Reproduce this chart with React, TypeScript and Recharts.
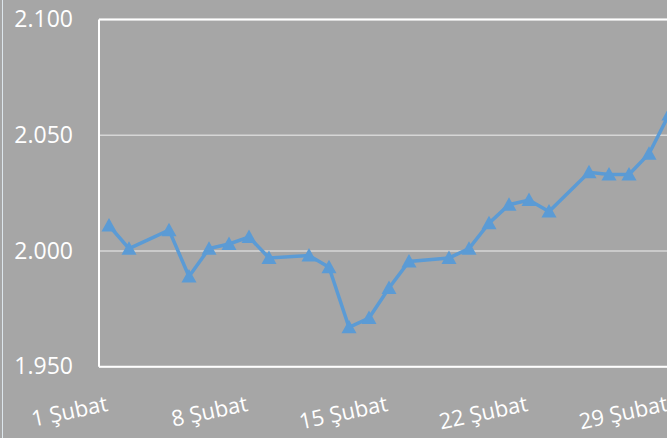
import React from "react";
import { LineChart, Line, XAxis, YAxis, CartesianGrid, ReferenceLine } from "recharts";

// February days with a reading (3rd, 10th, 17th and 24th have none)
const days = [1, 2, 4, 5, 6, 7, 8, 9, 11, 12, 13, 14, 15, 16, 18, 19, 20, 21, 22, 23, 25, 26, 27, 28, 29];
const values = [
  2011, 2001, 2009, 1989, 2001, 2003, 2006, 1997, 1998, 1993, 1967, 1971, 1984, 1995.5, 1997, 2001, 2012, 2020,
  2022, 2017, 2034, 2033, 2033, 2042, 2059,
];
const xTicks = [1, 8, 15, 22, 29];
const yTicks = [1950, 2000, 2050, 2100];

const data = days.map((d, i) => ({ day: d, value: values[i] }));

const BG = "#a6a6a6";
const BLUE = "#5b9bd5";
const FONT = "'Open Sans', sans-serif";

// 2100 -> "2.100"
const fmt = (v: number) => `${Math.floor(v / 1000)}.${String(v % 1000).padStart(3, "0")}`;

const YTick = (props: any) => {
  const { x, y, payload } = props;
  return (
    <text x={x} y={y} dy="0.33em" textAnchor="end" fill="#fff" fontSize={23} fontFamily={FONT}>
      {fmt(payload.value)}
    </text>
  );
};

const XTick = (props: any) => {
  const { x, y, payload } = props;
  const ty = y + 44;
  return (
    <text
      x={x}
      y={ty}
      textAnchor="end"
      fill="#fff"
      fontSize={22}
      fontFamily={FONT}
      transform={`rotate(-12, ${x}, ${ty})`}
    >
      {`${payload.value} Şubat`}
    </text>
  );
};

const Triangle = (props: any) => {
  const { cx, cy } = props;
  if (cx == null || cy == null) return null;
  return <polygon points={`${cx},${cy - 7.5} ${cx + 7.5},${cy + 6} ${cx - 7.5},${cy + 6}`} fill={BLUE} />;
};

export default function App() {
  return (
    <div
      style={{
        position: "fixed",
        top: 0,
        left: 0,
        width: 667,
        height: 438,
        overflow: "hidden",
        background: BG,
      }}
    >
      <div style={{ position: "absolute", left: 2, top: 0, width: 1, height: 438, background: "#dde6ec" }} />
      <LineChart width={700} height={438} data={data} margin={{ top: 19.5, right: 21, bottom: 0, left: 0 }}>
        <CartesianGrid horizontal vertical={false} stroke="#d6d6d6" strokeWidth={1.5} />
        <XAxis
          dataKey="day"
          type="number"
          domain={[0.5, 29.5]}
          ticks={xTicks}
          interval={0}
          height={71.3}
          tickSize={0}
          tickMargin={0}
          axisLine={{ stroke: "#fff", strokeWidth: 2 }}
          tickLine={false}
          tick={<XTick />}
        />
        <YAxis
          type="number"
          domain={[1950, 2100]}
          ticks={yTicks}
          interval={0}
          width={99}
          tickSize={0}
          tickMargin={26}
          axisLine={{ stroke: "#fff", strokeWidth: 2 }}
          tickLine={false}
          tick={<YTick />}
        />
        <ReferenceLine y={2100} stroke="#fff" strokeWidth={2} />
        <Line
          dataKey="value"
          stroke={BLUE}
          strokeWidth={3.5}
          dot={<Triangle />}
          activeDot={false}
          isAnimationActive={false}
        />
      </LineChart>
    </div>
  );
}
